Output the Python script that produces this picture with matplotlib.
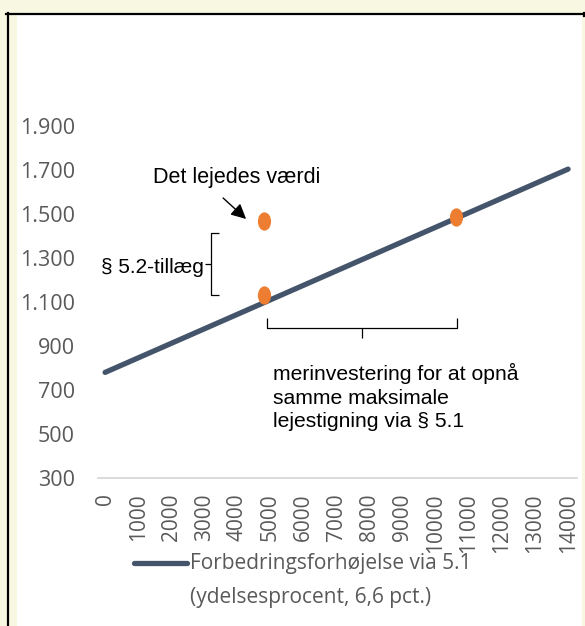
import matplotlib
matplotlib.use("Agg")
import matplotlib.pyplot as plt
from matplotlib.path import Path
from matplotlib.patches import Rectangle
from matplotlib.lines import Line2D
from matplotlib.ticker import FuncFormatter
import numpy as np

# ---- data ----
investment = [0, 1000, 2000, 3000, 4000, 5000, 6000, 7000, 8000, 9000,
              10000, 11000, 12000, 13000, 14000]
rent_5_1 = [780, 846, 912, 978, 1044, 1110, 1176, 1242, 1308, 1374,
            1440, 1506, 1572, 1638, 1704]
point_x = [4800, 4800, 10600]
point_y = [1468, 1132, 1486]
y_ticks = [300, 500, 700, 900, 1100, 1300, 1500, 1700, 1900]
series_label_1 = "Forbedringsforhøjelse via 5.1"
series_label_2 = "(ydelsesprocent, 6,6 pct.)"

W, H = 585, 626
fig = plt.figure(figsize=(W / 100, H / 100), dpi=100)
fig.patch.set_facecolor("#F8F8E2")

def fx(px):
    return px / W

def fy(py):
    return 1 - py / H

# white panel and black frame
fig.add_artist(Rectangle((fx(17), 0), fx(582) - fx(17), fy(14), transform=fig.transFigure,
                         facecolor="white", edgecolor="none", zorder=0))
fig.add_artist(Line2D([fx(6), fx(584)], [fy(13.5), fy(13.5)], transform=fig.transFigure,
                      color="black", lw=1.6, zorder=1))
fig.add_artist(Line2D([fx(7.5), fx(7.5)], [fy(13), 0], transform=fig.transFigure,
                      color="black", lw=1.6, zorder=1))
fig.add_artist(Line2D([fx(583.5), fx(583.5)], [fy(13), fy(16)], transform=fig.transFigure,
                      color="black", lw=1.6, zorder=1))

ax = fig.add_axes([fx(98), fy(478), fx(577) - fx(98), fy(126) - fy(478)])
ax.set_facecolor("none")

line_color = "#44546A"
ax.plot(investment, rent_5_1, color=line_color, lw=3.8, solid_capstyle="round", zorder=3)

ell = Path.unit_circle().transformed(matplotlib.transforms.Affine2D().scale(0.72, 1.0))
ax.plot(point_x, point_y, linestyle="none", marker=ell, markersize=13.2,
        color="#ED7D31", markeredgewidth=0, zorder=4)

ax.set_xlim(-215, 14270)
ax.set_ylim(300, 1900)
ax.set_xticks(investment)
ax.set_yticks(y_ticks)
ax.yaxis.set_major_formatter(FuncFormatter(lambda v, p: f"{int(v):,}".replace(",", ".")))
ax.xaxis.set_major_formatter(FuncFormatter(lambda v, p: f"{int(v)}"))

tick_font = "Open Sans"
for lab in ax.get_yticklabels():
    lab.set_fontfamily(tick_font)
for lab in ax.get_xticklabels():
    lab.set_fontfamily(tick_font)
ax.tick_params(axis="y", length=0, pad=16.5, labelsize=15.5, labelcolor="#595959")
ax.tick_params(axis="x", length=0, pad=11, labelsize=15, labelcolor="#595959",
               labelrotation=90)
for lab in ax.get_xticklabels():
    lab.set_verticalalignment("top")

for s in ["top", "right", "left"]:
    ax.spines[s].set_visible(False)
ax.spines["bottom"].set_color("#D9D9D9")
ax.spines["bottom"].set_linewidth(1.3)

# pixel -> data helpers for annotations
def dx(px):
    return (px - 105) / 463 * 14000

def dy(py):
    return 300 + (478 - py) / 44 * 200

txt_font = "Liberation Sans"
ax.text(dx(153), dy(183), "Det lejedes værdi", fontsize=15.5,
        family=["Liberation Sans Narrow", "Liberation Sans"],
        color="black", ha="left", va="baseline", zorder=5)
ax.annotate("", xy=(dx(246), dy(219)), xytext=(dx(223), dy(198)),
            arrowprops=dict(arrowstyle="-|>,head_length=0.9,head_width=0.45", color="black",
                            lw=1.0, shrinkA=0, shrinkB=0), zorder=5)
ax.text(dx(101), dy(273), "§ 5.2-tillæg", fontsize=15, family=txt_font,
        color="black", ha="left", va="baseline", zorder=5)

# vertical brace
bk = dict(color="black", lw=0.9, zorder=5, solid_capstyle="butt")
ax.plot([dx(219), dx(211), dx(211), dx(219)], [dy(233), dy(233), dy(295), dy(295)], **bk)
ax.plot([dx(205), dx(211)], [dy(264), dy(264)], **bk)
# horizontal brace
ax.plot([dx(267), dx(267), dx(457), dx(457)], [dy(318), dy(328), dy(328), dy(318)], **bk)
ax.plot([dx(362), dx(362)], [dy(328), dy(338)], **bk)

ax.text(dx(273), dy(363), "merinvestering for at opnå\nsamme maksimale\nlejestigning via § 5.1",
        fontsize=15.2, family=txt_font, color="black", ha="left", va="top",
        linespacing=1.3, zorder=5)

# legend (manual)
fig.add_artist(Line2D([fx(134), fx(187)], [fy(563), fy(563)], transform=fig.transFigure,
                      color=line_color, lw=3.8, solid_capstyle="round"))
fig.text(fx(190), fy(563), series_label_1, fontsize=15, family=tick_font, color="#595959",
         ha="left", va="center")
fig.text(fx(190), fy(597), series_label_2, fontsize=15, family=tick_font, color="#595959",
         ha="left", va="center")

fig.savefig("out.png", dpi=100, facecolor=fig.get_facecolor())
